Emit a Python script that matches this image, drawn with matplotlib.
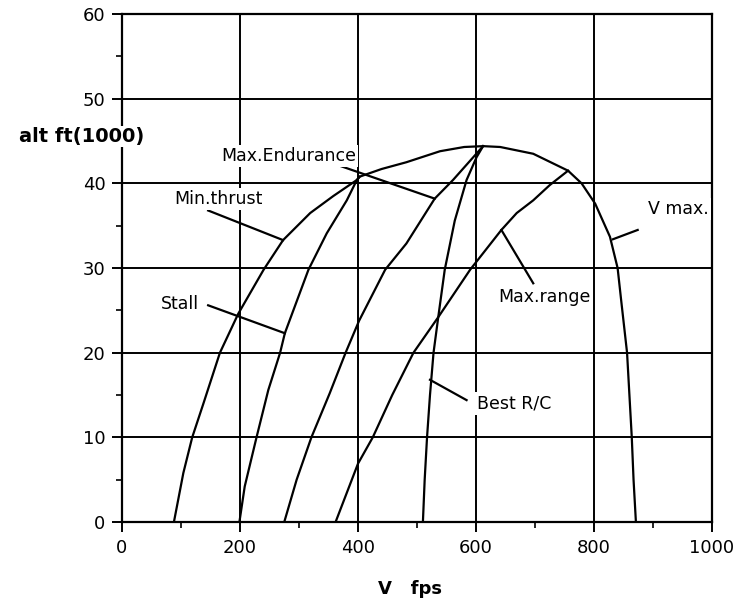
import numpy as np
import matplotlib
matplotlib.use("Agg")
import matplotlib.pyplot as plt

# speed (fps) vs altitude (1000 ft)
env_v = [88, 104, 119, 138, 166, 197, 240, 273, 319, 358, 398, 403, 440, 482, 539,
         580, 612, 641, 697, 756, 779, 802, 827, 840, 846, 856, 860, 864, 867, 871]
env_h = [0, 5.8, 10, 14, 20, 24.6, 29.8, 33.3, 36.5, 38.5, 40.4, 40.8, 41.7, 42.5, 43.8,
         44.3, 44.4, 44.3, 43.5, 41.5, 40, 37.6, 33.7, 30, 26.2, 20, 15, 10, 5, 0]

stall_v = [199, 208, 228, 248, 268, 276, 316, 347, 381, 398, 403]
stall_h = [0, 4.2, 10, 15.6, 20, 22.3, 29.8, 34.1, 38, 40.4, 40.8]

endur_v = [275, 296, 321, 352, 379, 402, 446, 482, 530, 561, 612]
endur_h = [0, 5, 10, 15.2, 20, 23.8, 29.8, 32.9, 38.2, 40.4, 44.4]

roc_v = [510, 513, 517, 522, 528, 536, 547, 564, 584, 601, 612]
roc_h = [0, 5, 10, 15, 20, 24.2, 29.8, 35.6, 40.4, 43.1, 44.4]

range_v = [362, 400, 425, 458, 494, 536, 590, 643, 669, 697, 725, 756]
range_h = [0, 6.9, 10, 15, 20, 24.2, 29.8, 34.5, 36.5, 38, 39.8, 41.5]

# label text, text position, leader start, leader end
labels = [
    ("Max.Endurance", (282, 43.2), (302, 43.7), (530, 38.2)),
    ("Min.thrust", (163, 38.2), (146, 36.8), (273, 33.3)),
    ("Stall", (98, 25.8), (146, 25.6), (276, 22.3)),
    ("Max.range", (716, 26.6), (697, 28.2), (643, 34.5)),
    ("V max.", (943, 37.0), (874, 34.5), (832, 33.4)),
    ("Best R/C", (665, 14.0), (584, 14.4), (522, 16.8)),
]

plt.rcParams['font.family'] = 'DejaVu Sans'
fig = plt.figure(figsize=(7.38, 5.99), dpi=100)
ax = fig.add_axes([0.1653, 0.1285, 0.7995, 0.848])

lw = 1.6
for v, h in [(env_v, env_h), (stall_v, stall_h), (endur_v, endur_h),
             (roc_v, roc_h), (range_v, range_h)]:
    ax.plot(v, h, color='black', lw=lw, zorder=3, solid_joinstyle='round')

for text, tpos, p0, p1 in labels:
    ax.plot([p0[0], p1[0]], [p0[1], p1[1]], color='black', lw=lw, zorder=3)
    ax.text(tpos[0], tpos[1], text, fontsize=12.5, ha='center', va='center',
            zorder=4, bbox=dict(facecolor='white', edgecolor='none', pad=1.5))

ax.set_xlim(0, 1000)
ax.set_ylim(0, 60)
ax.set_xticks(np.arange(0, 1001, 200))
ax.set_yticks(np.arange(0, 61, 10))
ax.set_xticks(np.arange(100, 1000, 200), minor=True)
ax.set_yticks(np.arange(5, 60, 10), minor=True)
ax.grid(True, which='major', color='black', lw=1.4, zorder=1)
ax.set_axisbelow(True)
for s in ax.spines.values():
    s.set_linewidth(1.6)
ax.tick_params(which='major', length=7, width=1.4, labelsize=13, direction='out')
ax.tick_params(which='minor', length=4, width=1.2, direction='out')
ax.tick_params(axis='x', pad=5)
ax.tick_params(axis='y', pad=5)

# axis titles sit over the spine, with a white box like the original
fig.text(0.110, 0.772, "alt ft(1000)", fontsize=14, fontweight='bold',
         ha='center', va='center', zorder=10,
         bbox=dict(facecolor='white', edgecolor='none', pad=1.0))
fig.text(0.556, 0.017, "V   fps", fontsize=13, fontweight='bold',
         ha='center', va='center')

fig.savefig("out.png", dpi=100)
